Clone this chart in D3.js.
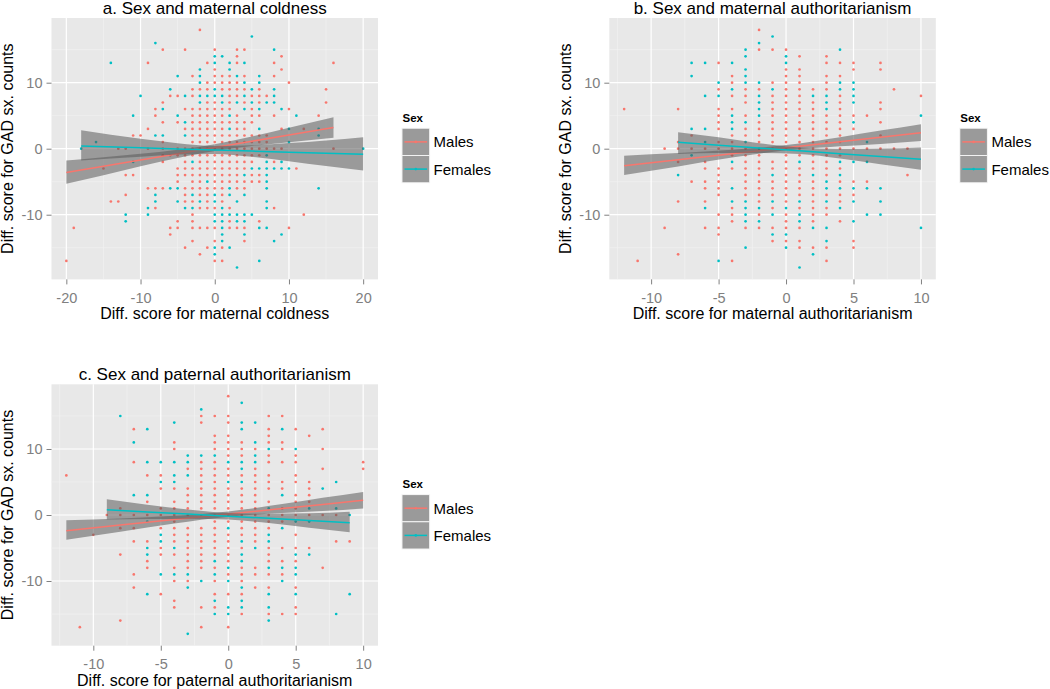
<!DOCTYPE html>
<html><head><meta charset="utf-8">
<script src="https://cdn.jsdelivr.net/npm/d3@7"></script>
<style>body{margin:0;background:#fff;} svg{display:block;}</style>
</head><body><svg id="chart" width="1050" height="689"></svg>
<script>
// ---------------- DATA ----------------
const sexLabels = ["Males", "Females"];
const yTicks = [-10, 0, 10];
const yMinorTicks = [-15, -5, 5, 15];
const xTicksA = [-20, -10, 0, 10, 20];
const xMinorA = [-15, -5, 5, 15];
const xTicksBC = [-10, -5, 0, 5, 10];
const xMinorBC = [-12.5, -7.5, -2.5, 2.5, 7.5];

// points: [x, [y values]]
const coldMales = [
 [-20,[-17]],[-19,[-12]],[-15,[-3]],[-14,[-8]],[-13,[0,-8]],[-12,[0,-4,-7]],[-11,[2,-4]],[-10,[2]],
 [-9,[13,3,0,-6]],[-8,[6,5,-6,-9]],[-7,[15,7,4,1,0,-1,-2,-6]],[-6,[8,-1,-12,-13]],
 [-5,[8,4,0,-1,-3,-4,-5,-11,-12]],[-4,[15,6,3,0,-1,-2,-3,-4,-6,-7,-8,-15]],
 [-3,[11,9,8,6,5,4,3,2,1,0,-1,-3,-4,-5,-6,-8,-10,-11,-12,-14]],
 [-2,[18,9,6,5,4,3,2,1,0,-1,-2,-3,-4,-5,-6,-7,-9,-12,-16]],
 [-1,[13,10,9,7,6,5,4,3,2,1,0,-1,-2,-3,-4,-6,-7,-8,-9,-12,-15]],
 [0,[15,12,11,10,7,6,5,4,3,2,1,0,-1,-2,-3,-4,-5,-6,-9,-12,-14,-17]],
 [1,[11,10,9,6,5,4,3,2,1,0,-1,-2,-3,-4,-5,-6,-7,-8,-15,-17]],
 [2,[11,10,9,8,7,6,4,2,1,0,-1,-2,-3,-4,-5,-9,-11,-12]],
 [3,[15,14,13,10,9,8,5,4,3,2,1,0,-1,-2,-3,-4,-5,-6,-12]],
 [4,[15,11,9,7,4,3,2,1,0,-1,-2,-3,-5,-6,-12,-14]],
 [5,[8,6,5,4,2,1,0,-1,-2,-4,-5]],
 [6,[9,8,7,5,2,1,0,-1,-4,-5,-11]],
 [7,[8,2,1,0]],[8,[13,11,5,0,-2,-9]],[9,[14,12,3,0]],[10,[10,6,-12]],[11,[-3]],[12,[3,-10]],
 [14,[5]],[15,[9,7]],[16,[13,0]]
];
const coldFemales = [
 [-18,[0]],[-16,[1]],[-14,[13]],[-12,[-10,-11]],[-11,[5,-2]],[-10,[8]],[-9,[-9,-10]],[-8,[16,2,-7,-8]],
 [-7,[6,2]],[-6,[9,-6]],[-5,[11,5,-6,-8]],[-4,[8,4,2,-9]],[-3,[-2,-7,-9]],[-2,[12,11,10,8,7,-8]],
 [-1,[8,-5]],[0,[14,13,9,8,-7,-8,-10,-11,-15,-16]],[1,[14,8,7,-9,-10,-11,-12,-13,-14]],
 [2,[13,12,5,3,-6,-7,-10,-15]],[3,[11,7,-8,-10,-11,-18]],[4,[13,10,8,6,-4,-7,-10,-11,-13]],
 [5,[17,9,7,-3,-10]],[6,[11,10,6,3,-3,-12,-17]],[7,[7,-1,-2,-3,-4,-5,-6,-8,-9,-12]],
 [8,[15,9,8,7,-3,-14]],[9,[6,-2,-3,-13]],[10,[3,1,-3]],[11,[5]],[14,[3,2,-6]],[20,[0]]
];
const matAuthMales = [
 [-12,[6]],[-11,[-17]],[-9,[0,-12]],[-8,[6,1,0,-2,-8,-16]],[-7,[2,0,-5]],[-6,[0,-2,-3,-5,-6,-8,-12]],
 [-5,[13,9,6,5,4,3,1,0,-3,-4,-5,-6,-7,-10,-12,-13]],
 [-4,[11,10,8,6,2,1,0,-1,-3,-9,-10,-11,-17]],
 [-3,[9,8,7,5,3,2,0,-1,-2,-3,-4,-5,-6,-7,-12]],
 [-2,[18,15,9,4,3,2,1,-1,-2,-3,-4,-5,-6,-7,-8,-10,-12]],
 [-1,[15,10,8,7,6,5,4,3,2,1,0,-2,-3,-5,-6,-7,-9,-12,-14]],
 [0,[15,12,11,10,9,8,7,6,5,4,3,2,1,0,-1,-2,-3,-4,-5,-6,-7,-8,-10,-11,-12,-14]],
 [1,[14,12,11,10,9,8,7,6,5,4,3,2,1,0,-1,-3,-4,-5,-6,-7,-9,-12,-14,-15]],
 [2,[9,7,6,5,4,3,2,1,0,-1,-2,-3,-5,-6,-7,-8,-9,-10,-11,-15]],
 [3,[14,13,11,10,9,5,4,3,2,1,0,-1,-2,-3,-4,-7,-9,-10,-15,-17]],
 [4,[13,11,8,7,6,5,4,3,2,1,0,-1,-3,-5,-7,-8,-11]],
 [5,[13,12,5,3,0,-5,-7,-14,-15]],
 [6,[5,0,-5]],[7,[13,12,7,6,4,2,0]],[8,[9,0]],[9,[0,-4]],[10,[8]]
];
const matAuthFemales = [
 [-8,[-4]],[-7,[13,11,3,-1]],[-6,[13,8,3,1,-9]],[-5,[10,8,-17]],[-4,[13,9,5,4,3,-2,-6,-8]],
 [-3,[15,14,12,11,10,4,1,-8,-9,-10,-11,-15]],[-2,[16,10,8,7,6,5,0,-9,-11]],[-1,[17,9,-4,-8,-10,-13]],
 [0,[14,13,-9,-13,-15]],[1,[-2,-8,-10,-11,-18]],[2,[8,-4,-12,-16]],[3,[8,7,6,-5,-6,-8,-12,-14]],
 [4,[15,10,9,-2,-4,-6,-9]],[5,[10,9,8,7,4,-2,-6,-8,-11]],[6,[1,-2,-6,-10]],[7,[-6,-8,-10]],[10,[5,-12]]
];
const patAuthMales = [
 [-12,[6]],[-11,[-17]],[-10,[-3]],[-9,[0]],[-8,[1,0,-2,-6,-16]],[-7,[13,8,0,-2,-4,-9,-11]],
 [-6,[6,2,0,-4,-7,-8]],[-5,[6,4,1,0,-2,-5,-6,-12]],
 [-4,[11,10,4,2,1,0,-1,-2,-3,-4,-6,-8,-10,-13,-14]],
 [-3,[7,4,3,2,1,0,-2,-3,-4,-5,-6,-7,-8,-10]],
 [-2,[15,14,8,7,6,5,4,3,2,1,0,-2,-3,-4,-5,-6,-7,-8,-14,-17]],
 [-1,[15,12,11,10,8,7,6,5,4,3,2,1,0,-1,-2,-3,-4,-5,-6,-8,-10,-12,-14]],
 [0,[18,15,14,12,11,10,9,7,6,4,3,2,1,0,-1,-3,-4,-5,-6,-7,-9,-12,-17]],
 [1,[11,10,9,6,4,3,2,1,0,-1,-2,-3,-5,-8,-9,-10,-12,-15]],
 [2,[10,7,6,5,4,3,2,1,0,-1,-2,-3,-4,-8,-9,-11]],
 [3,[15,13,12,11,9,8,6,5,4,2,0,-1,-2,-5,-6,-7,-9,-11,-15]],
 [4,[15,11,10,8,5,4,1,0,-1,-5,-7,-9,-15]],
 [5,[13,9,8,6,5,3,2,1,0,-3,-5,-7,-11,-14,-15]],
 [6,[12,5,4,3,2,0,-5]],[7,[13,10,7,0,-8]],[8,[0,-4]],[9,[-4]],[10,[8,7]]
];
const patAuthFemales = [
 [-8,[15]],[-7,[11,3]],[-6,[13,8,3,-1,-5,-6,-12]],[-5,[8,5,-3,-4,-9]],[-4,[14,8,6,5,-5,-9]],
 [-3,[9,8,6,-9,-11,-18]],[-2,[16,9,-10]],[-1,[9,-7,-9,-13,-15]],[0,[8,5,-2,-8,-10,-14,-15]],
 [1,[17,14,13,8,7,5,-4,-6,-7,-11,-13,-14]],[2,[14,11,9,8,-5]],[3,[10,1,-3,-4,-8,-12,-14,-16]],
 [4,[13,3,-2,-8,-10]],[5,[10,-1,-6,-8,-9,-12]],[6,[1,-1,-6]],[7,[4]],[8,[5,1,-15]],[9,[0,-12]]
];

// linear fits: [x, fitted, lower 95% CI, upper 95% CI]
const coldFitMales = [[-20,-3.60,-5.30,-1.80],[-15,-2.66,-4.02,-1.30],[-10,-1.71,-2.66,-0.76],[-5,-0.77,-1.39,-0.15],[0,0.18,-0.33,0.69],[5,1.13,0.40,1.86],[10,2.07,0.96,3.18],[16,3.20,1.65,4.75]];
const coldFitFemales = [[-18,0.40,-1.80,2.80],[-10,0.14,-1.23,1.51],[-5,-0.03,-0.89,0.84],[0,-0.19,-0.79,0.41],[5,-0.36,-1.22,0.51],[10,-0.52,-1.89,0.85],[15,-0.69,-2.63,1.26],[20,-0.85,-3.30,1.75]];
const matAuthFitMales = [[-12,-2.57,-4.00,-1.05],[-8,-1.67,-2.68,-0.66],[-4,-0.76,-1.35,-0.17],[0,0.15,-0.25,0.55],[4,1.06,0.38,1.74],[7,1.74,0.73,2.75],[10,2.42,1.15,3.72]];
const matAuthFitFemales = [[-8,0.96,-0.80,2.50],[-5,0.53,-0.66,1.72],[-2,0.10,-0.64,0.84],[1,-0.32,-0.82,0.18],[4,-0.75,-1.49,-0.01],[7,-1.17,-2.36,0.02],[10,-1.60,-3.20,0.20]];
const patAuthFitMales = [[-12,-2.37,-3.75,-0.80],[-8,-1.53,-2.54,-0.52],[-4,-0.70,-1.29,-0.11],[0,0.14,-0.26,0.54],[4,0.98,0.30,1.66],[7,1.60,0.59,2.61],[10,2.23,1.00,3.50]];
const patAuthFitFemales = [[-9,0.80,-0.68,2.37],[-6,0.47,-0.62,1.56],[-3,0.15,-0.55,0.85],[0,-0.18,-0.68,0.32],[3,-0.51,-1.21,0.19],[6,-0.83,-1.92,0.26],[9,-1.16,-2.60,0.50]];

// ---------------- LAYOUT / STYLE ----------------
const colors = ["#F8766D", "#00BFC4"];
const FONT = "'Liberation Sans', Arial, Helvetica, sans-serif";
const W = 326.5, H = 261.4;
const yDomain = [-19.8, 19.8];
const yLabel = "Diff. score for GAD sx. counts";

const panels = [
  {title: "a. Sex and maternal coldness", xlab: "Diff. score for maternal coldness",
   xDomain: [-22, 22], xTicks: xTicksA, xMinor: xMinorA,
   pts: [coldMales, coldFemales], fits: [coldFitMales, coldFitFemales], left: 51.5, top: 18},
  {title: "b. Sex and maternal authoritarianism", xlab: "Diff. score for maternal authoritarianism",
   xDomain: [-13.1, 11.1], xTicks: xTicksBC, xMinor: xMinorBC,
   pts: [matAuthMales, matAuthFemales], fits: [matAuthFitMales, matAuthFitFemales], left: 609.3, top: 18},
  {title: "c. Sex and paternal authoritarianism", xlab: "Diff. score for paternal authoritarianism",
   xDomain: [-13.1, 11.1], xTicks: xTicksBC, xMinor: xMinorBC,
   pts: [patAuthMales, patAuthFemales], fits: [patAuthFitMales, patAuthFitFemales], left: 51.5, top: 384.3}
];

const BAND_FILL = "#5a5a5a", BAND_OP = 0.55;

const svg = d3.select("#chart").style("font-family", FONT);
svg.append("rect").attr("width", 1050).attr("height", 689).attr("fill", "#fff");

panels.forEach(p => {
  const g = svg.append("g").attr("transform", `translate(${p.left},${p.top})`);
  const x = d3.scaleLinear().domain(p.xDomain).range([0, W]);
  const y = d3.scaleLinear().domain(yDomain).range([H, 0]);

  g.append("rect").attr("width", W).attr("height", H).attr("fill", "#E8E8E8");

  // minor grid
  g.selectAll(".xmin").data(p.xMinor).join("line")
    .attr("x1", d => x(d)).attr("x2", d => x(d)).attr("y1", 0).attr("y2", H)
    .attr("stroke", "#F3F3F3").attr("stroke-width", 0.6);
  g.selectAll(".ymin").data(yMinorTicks).join("line")
    .attr("y1", d => y(d)).attr("y2", d => y(d)).attr("x1", 0).attr("x2", W)
    .attr("stroke", "#F3F3F3").attr("stroke-width", 0.6);
  // major grid
  g.selectAll(".xmaj").data(p.xTicks).join("line")
    .attr("x1", d => x(d)).attr("x2", d => x(d)).attr("y1", 0).attr("y2", H)
    .attr("stroke", "#FFFFFF").attr("stroke-width", 1.2);
  g.selectAll(".ymaj").data(yTicks).join("line")
    .attr("y1", d => y(d)).attr("y2", d => y(d)).attr("x1", 0).attr("x2", W)
    .attr("stroke", "#FFFFFF").attr("stroke-width", 1.2);

  // points
  p.pts.forEach((cols, i) => {
    const pts = cols.flatMap(([xv, ys]) => ys.map(yv => [xv, yv]));
    g.append("g").selectAll("circle").data(pts).join("circle")
      .attr("cx", d => x(d[0])).attr("cy", d => y(d[1])).attr("r", 1.35)
      .attr("fill", colors[i]);
  });

  // smooths (ribbon then line per group)
  const area = d3.area().x(d => x(d[0])).y0(d => y(d[2])).y1(d => y(d[3])).curve(d3.curveMonotoneX);
  const line = d3.line().x(d => x(d[0])).y(d => y(d[1]));
  p.fits.forEach((f, i) => {
    g.append("path").datum(f).attr("d", area).attr("fill", BAND_FILL).attr("fill-opacity", BAND_OP);
    g.append("path").datum(f).attr("d", line).attr("fill", "none")
      .attr("stroke", colors[i]).attr("stroke-width", 1.5);
  });

  // axes
  const xa = g.append("g").attr("transform", `translate(0,${H})`)
    .call(d3.axisBottom(x).tickValues(p.xTicks).tickSize(5).tickPadding(8).tickFormat(d => String(d)));
  const ya = g.append("g")
    .call(d3.axisLeft(y).tickValues(yTicks).tickSize(5).tickPadding(4).tickFormat(d => String(d)));
  [xa, ya].forEach(a => {
    a.attr("font-family", FONT).attr("font-size", 14.5);
    a.select(".domain").remove();
    a.selectAll(".tick line").attr("stroke", "#808080").attr("stroke-width", 1);
    a.selectAll(".tick text").attr("fill", "#808080");
  });

  // titles & labels
  g.append("text").attr("x", W / 2).attr("y", -4.5).attr("text-anchor", "middle")
    .attr("font-size", 17).attr("fill", "#000").text(p.title);
  g.append("text").attr("x", W / 2).attr("y", H + 40).attr("text-anchor", "middle")
    .attr("font-size", 16).attr("fill", "#000").text(p.xlab);
  g.append("text").attr("transform", `translate(-38.5,${H / 2}) rotate(-90)`)
    .attr("text-anchor", "middle").attr("font-size", 16).attr("fill", "#000").text(yLabel);

  // legend
  const lg = g.append("g").attr("transform", `translate(${W + 24},${H / 2})`);
  lg.append("text").attr("x", 0.5).attr("y", -27.2).attr("font-size", 11.5)
    .attr("font-weight", "bold").attr("fill", "#000").text("Sex");
  const KW = 27.6, KH = 27.2;
  sexLabels.forEach((lab, i) => {
    const ky = -20.4 + i * KH;
    lg.append("rect").attr("x", 0).attr("y", ky).attr("width", KW).attr("height", KH)
      .attr("fill", "#E8E8E8").attr("stroke", "#F2F2F2").attr("stroke-width", 1);
    lg.append("rect").attr("x", 0.5).attr("y", ky + 0.5).attr("width", KW - 1).attr("height", KH - 1)
      .attr("fill", BAND_FILL).attr("fill-opacity", BAND_OP);
    lg.append("line").attr("x1", 2.5).attr("x2", KW - 2.5).attr("y1", ky + KH / 2).attr("y2", ky + KH / 2)
      .attr("stroke", colors[i]).attr("stroke-width", 1.5);
    lg.append("circle").attr("cx", KW / 2).attr("cy", ky + KH / 2).attr("r", 1.3).attr("fill", colors[i]);
    lg.append("text").attr("x", KW + 4).attr("y", ky + KH / 2 + 5.5).attr("font-size", 15)
      .attr("fill", "#000").text(lab);
  });
});
</script>
</body></html>
